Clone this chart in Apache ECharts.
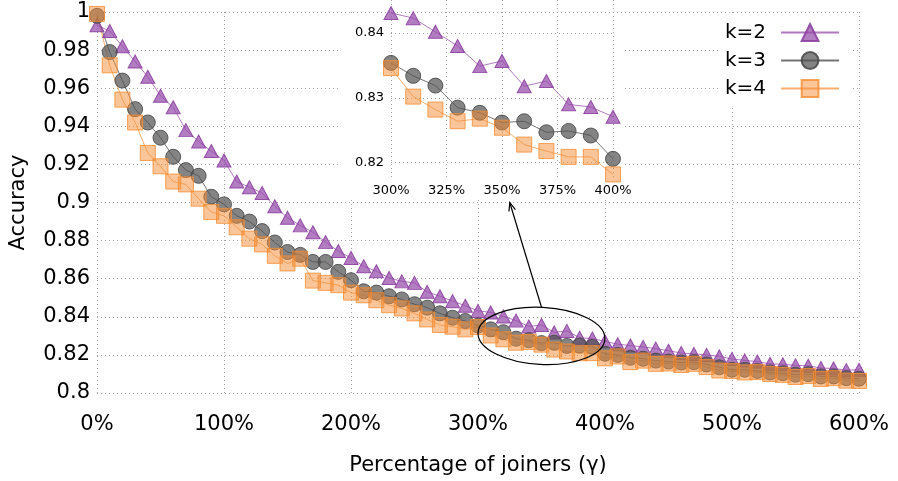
<!DOCTYPE html>
<html><head><meta charset="utf-8">
<script src="https://cdn.jsdelivr.net/npm/echarts@6/dist/echarts.min.js"></script>
<style>html,body{margin:0;padding:0;background:#fff}#c{width:898px;height:481px}</style>
</head><body><div id="c"></div>
<script>
// ---- data ----
const joiners = [0,10,20,30,40,50,60,70,80,90,
  100,110,120,130,140,150,160,170,180,190,
  200,210,220,230,240,250,260,270,280,290,
  300,310,320,330,340,350,360,370,380,390,
  400,410,420,430,440,450,460,470,480,490,
  500,510,520,530,540,550,560,570,580,590,600];
const accK2 = [0.993,0.990,0.982,0.974,0.966,0.956,0.950,0.938,0.932,0.927,
  0.922,0.911,0.908,0.905,0.898,0.892,0.888,0.8844,0.8792,0.8745,
  0.8709,0.8665,0.8639,0.8604,0.8586,0.8578,0.8531,0.8508,0.8482,0.8458,
  0.8431,0.8423,0.8402,0.8380,0.8349,0.8357,0.8318,0.8326,0.8290,0.8286,
  0.8271,0.8256,0.8249,0.8242,0.8233,0.8222,0.8210,0.8205,0.8200,0.8192,
  0.8179,0.8171,0.8165,0.8153,0.8151,0.8145,0.8143,0.8131,0.8129,0.8120,0.8122];
const accK3 = [0.998,0.979,0.964,0.949,0.942,0.934,0.924,0.917,0.914,0.903,
  0.899,0.893,0.890,0.885,0.879,0.874,0.8725,0.8688,0.8688,0.8636,
  0.8592,0.8534,0.8527,0.8508,0.8491,0.8466,0.8448,0.8418,0.8395,0.8378,
  0.8354,0.8334,0.8319,0.8285,0.8277,0.8262,0.8264,0.8247,0.8249,0.8242,
  0.8206,0.8200,0.8185,0.8180,0.8170,0.8165,0.8160,0.8162,0.8150,0.8135,
  0.8122,0.8122,0.8116,0.8108,0.8104,0.8096,0.8099,0.8087,0.8087,0.8078,0.8075];
const accK4 = [0.999,0.972,0.954,0.942,0.926,0.919,0.911,0.9095,0.902,0.895,
  0.893,0.887,0.881,0.878,0.872,0.868,0.8705,0.859,0.8578,0.8566,
  0.8527,0.8513,0.8487,0.8461,0.8444,0.8418,0.8386,0.8357,0.8348,0.8334,
  0.8346,0.8302,0.8282,0.8264,0.8268,0.8254,0.8228,0.8218,0.8209,0.8209,
  0.8182,0.8192,0.8162,0.8170,0.8153,0.8155,0.8147,0.8153,0.8136,0.8118,
  0.8115,0.8108,0.8110,0.8100,0.8095,0.8084,0.8089,0.8074,0.8078,0.8065,0.8063];
const seriesNames = ['k=2','k=3','k=4'];
const insetX = [300, 400];
const insetYTicks = [0.82, 0.83, 0.84];
const ellipseX = [300, 400];
const ellipseY = [0.815, 0.845];
const arrowFrom = [350, 0.845];
const arrowTo = [325, 0.90];

// ---- styling ----
const FONT = 'DejaVu Sans';
const gridLine = {show:true, lineStyle:{type:[1,3], color:'#a4a4a4', width:1}};
const styles = [
  {symbol:'triangle', size:[14,13], line:'rgba(150,75,170,0.75)', fill:'rgba(150,75,170,0.72)', border:'rgba(140,65,160,0.9)'},
  {symbol:'circle', size:15, line:'rgba(70,70,70,0.75)', fill:'rgba(80,80,80,0.7)', border:'rgba(70,70,70,0.85)'},
  {symbol:'rect', size:15, line:'rgba(245,140,50,0.7)', fill:'rgba(245,140,50,0.5)', border:'rgba(245,140,50,0.8)'}
];
const allAcc = [accK2, accK3, accK4];
const fmtNum = v => String(+(+v).toFixed(4));

function pairs(arr, range) {
  const out = [];
  joiners.forEach((x, i) => {
    if (!range || (x >= range[0] && x <= range[1])) out.push([x, arr[i]]);
  });
  return out;
}
function mkSeries(k, inset) {
  const s = styles[k];
  return {
    name: seriesNames[k], type:'line',
    xAxisIndex: inset ? 1 : 0, yAxisIndex: inset ? 1 : 0,
    data: pairs(allAcc[k], inset ? insetX : null),
    symbol: s.symbol, symbolSize: s.size, showSymbol:true,
    lineStyle:{width:1, color:s.line},
    itemStyle:{color:s.fill, borderColor:s.border, borderWidth:1},
    emphasis:{disabled:true}, z: inset ? 6 : 2, animation:false
  };
}

const chart = echarts.init(document.getElementById('c'));
const option = {
  animation:false,
  backgroundColor:'#fff',
  textStyle:{fontFamily:FONT},
  grid:[
    {left:96, right:39, top:12, bottom:86},
    {left:391, top:0, width:222, height:177}
  ],
  legend:{
    data:seriesNames, orient:'vertical', left:720, top:14, align:'right',
    itemWidth:58, itemHeight:21, itemGap:7,
    padding:[8,12,8,5], backgroundColor:'#fff',
    textStyle:{fontFamily:FONT, fontSize:20, color:'#000', lineHeight:21, padding:[0,10,0,0]},
    selectedMode:false
  },
  xAxis:[
    {type:'value', gridIndex:0, min:0, max:600, interval:100,
     name:'Percentage of joiners (γ)', nameLocation:'middle', nameGap:62,
     nameTextStyle:{fontFamily:FONT, fontSize:21, color:'#000'},
     axisLine:{show:false}, axisTick:{show:false},
     axisLabel:{formatter:'{value}%', fontFamily:FONT, fontSize:21, color:'#000', margin:21},
     splitLine:gridLine, z:0},
    {type:'value', gridIndex:1, min:insetX[0], max:insetX[1], interval:25,
     axisLine:{show:false}, axisTick:{show:false},
     axisLabel:{formatter:'{value}%', fontFamily:FONT, fontSize:13, color:'#000', margin:7},
     splitLine:gridLine, z:3}
  ],
  yAxis:[
    {type:'value', gridIndex:0, min:0.8, max:1, interval:0.02,
     name:'Accuracy', nameLocation:'middle', nameGap:68,
     nameTextStyle:{fontFamily:FONT, fontSize:21, color:'#000'},
     axisLine:{show:false}, axisTick:{show:false},
     axisLabel:{formatter:fmtNum, fontFamily:FONT, fontSize:21, color:'#000', margin:7},
     splitLine:gridLine, z:0},
    {type:'value', gridIndex:1, min:0.8178, max:0.8451,
     axisLine:{show:false}, axisTick:{show:false, customValues:insetYTicks},
     axisLabel:{formatter:fmtNum, fontFamily:FONT, fontSize:13, color:'#000', margin:7, customValues:insetYTicks},
     splitLine:Object.assign({customValues:insetYTicks}, gridLine), z:3}
  ],
  series:[mkSeries(0,false), mkSeries(1,false), mkSeries(2,false),
          mkSeries(0,true), mkSeries(1,true), mkSeries(2,true)]
};
chart.setOption(option);

// annotations positioned through the main grid's scales
const eA = chart.convertToPixel({gridIndex:0}, [ellipseX[0], ellipseY[1]]);
const eB = chart.convertToPixel({gridIndex:0}, [ellipseX[1], ellipseY[0]]);
const aF = chart.convertToPixel({gridIndex:0}, arrowFrom);
const aT = chart.convertToPixel({gridIndex:0}, arrowTo);
const ang = Math.atan2(aF[1]-aT[1], aF[0]-aT[0]);
const hl = 9, hw = 0.38;
const h1 = [aT[0] + hl*Math.cos(ang+hw), aT[1] + hl*Math.sin(ang+hw)];
const h2 = [aT[0] + hl*Math.cos(ang-hw), aT[1] + hl*Math.sin(ang-hw)];
const cx = (eA[0]+eB[0])/2, cy = (eA[1]+eB[1])/2;
chart.setOption({
  graphic:[
    {type:'rect', id:'insetBg', z:1, silent:true,
     shape:{x:340, y:13, width:285, height:187}, style:{fill:'#fff'}},
    {type:'ellipse', id:'ell', z:20, silent:true, x:cx, y:cy, rotation:-0.05,
     shape:{cx:0, cy:0, rx:Math.abs(eB[0]-eA[0])/2, ry:Math.abs(eB[1]-eA[1])/2},
     style:{fill:null, stroke:'#000', lineWidth:1.2}},
    {type:'line', id:'arr', z:20, silent:true,
     shape:{x1:aF[0], y1:aF[1], x2:aT[0], y2:aT[1]}, style:{stroke:'#000', lineWidth:1.2}},
    {type:'polyline', id:'arrHead', z:20, silent:true,
     shape:{points:[h1, aT, h2]}, style:{stroke:'#000', lineWidth:1.2, fill:null}}
  ]
});
</script>
</body></html>
